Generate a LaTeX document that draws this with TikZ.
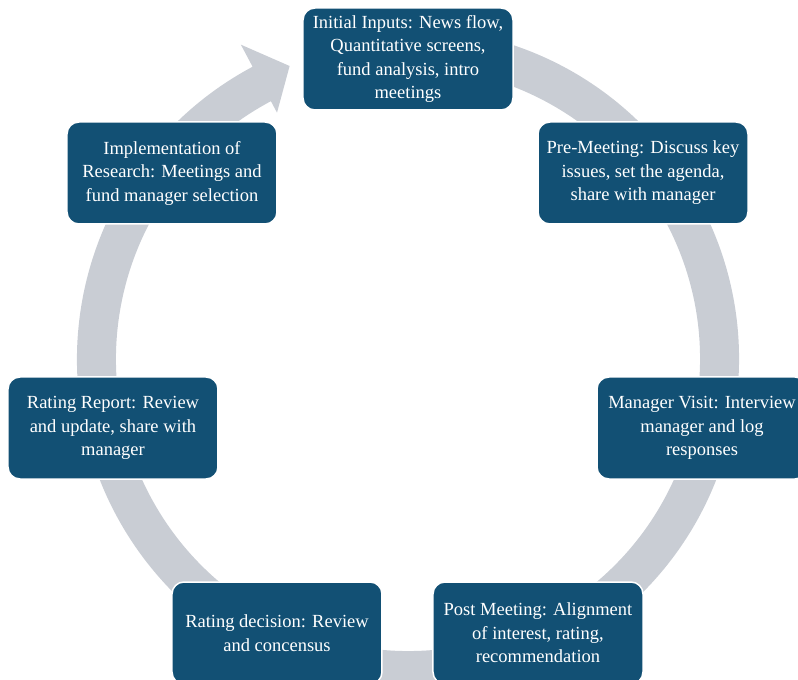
\documentclass[tikz,border=0pt]{standalone}
\usepackage{fontspec}
\setmainfont{Liberation Serif}
\usetikzlibrary{arrows.meta}

\definecolor{boxblue}{RGB}{18,80,116}
\definecolor{ringgray}{RGB}{201,205,212}

\begin{document}
\begin{tikzpicture}[x=1pt,y=1pt]
	\useasboundingbox (-408,-321) rectangle (390,359);

	\fill[ringgray] (80:331) arc[start angle=80, end angle=-242, radius=331]
		-- (-242:356) -- (-248:316) -- (-242:279) -- (-242:292)
		arc[start angle=-242, end angle=80, radius=292] -- cycle;

	\begin{scope}[every node/.style={rectangle,rounded corners=12pt,fill=boxblue,draw=white,line width=1.5pt,
		text=white,align=center,minimum width=210pt,minimum height=102pt,inner sep=2pt,
		font=\fontsize{18.5}{23.5}\selectfont}]
		\node (Inputs) at (0,300) {Initial Inputs: News flow,\\Quantitative screens,\\fund analysis, intro\\meetings};
		\node (Pre) at (235,186) {Pre-Meeting: Discuss key\\issues, set the agenda,\\share with manager};
		\node (Visit) at (294,-69) {Manager Visit: Interview\\manager and log\\responses};
		\node (Post) at (130,-274) {Post Meeting: Alignment\\of interest, rating,\\recommendation};
		\node (Decision) at (-131,-274) {Rating decision: Review\\and concensus};
		\node (Report) at (-295,-69) {Rating Report: Review\\and update, share with\\manager};
		\node (Impl) at (-236,186) {Implementation of\\Research: Meetings and\\fund manager selection};
	\end{scope}
\end{tikzpicture}
\end{document}
